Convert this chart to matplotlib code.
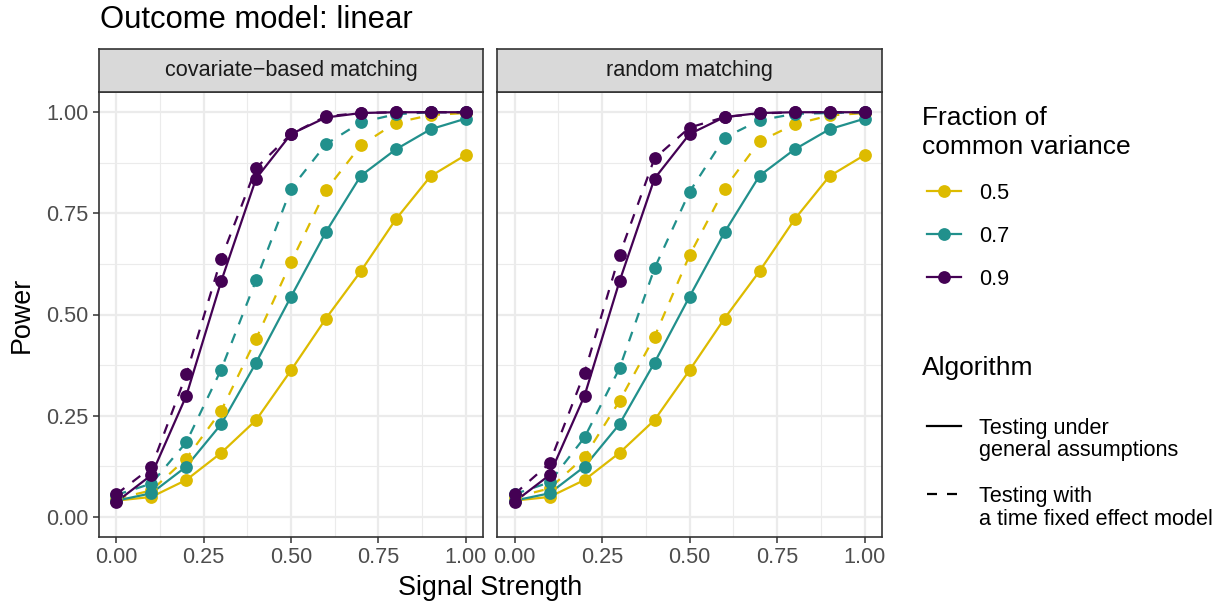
import matplotlib
matplotlib.use("Agg")
import matplotlib.pyplot as plt
from matplotlib.lines import Line2D
import numpy as np

plt.rcParams['font.family'] = ['Liberation Sans', 'DejaVu Sans']

# ---------------- data ----------------
signal = [0.0, 0.1, 0.2, 0.3, 0.4, 0.5, 0.6, 0.7, 0.8, 0.9, 1.0]
fractions = ["0.5", "0.7", "0.9"]
panels = ["covariate\u2212based matching", "random matching"]

# covariate-based matching
cov_general_05 = [0.040, 0.049, 0.091, 0.158, 0.239, 0.362, 0.490, 0.607, 0.735, 0.842, 0.894]
cov_general_07 = [0.040, 0.058, 0.124, 0.229, 0.381, 0.544, 0.704, 0.843, 0.908, 0.958, 0.984]
cov_general_09 = [0.037, 0.103, 0.299, 0.582, 0.836, 0.946, 0.987, 0.998, 1.000, 1.000, 1.000]
cov_fixed_05 = [0.045, 0.065, 0.144, 0.262, 0.440, 0.629, 0.807, 0.918, 0.974, 0.993, 0.998]
cov_fixed_07 = [0.054, 0.082, 0.184, 0.364, 0.585, 0.811, 0.921, 0.975, 0.995, 1.000, 1.000]
cov_fixed_09 = [0.056, 0.122, 0.352, 0.638, 0.862, 0.946, 0.990, 0.998, 1.000, 1.000, 1.000]

# random matching
rnd_general_05 = [0.040, 0.049, 0.091, 0.158, 0.239, 0.362, 0.490, 0.607, 0.735, 0.842, 0.894]
rnd_general_07 = [0.040, 0.058, 0.124, 0.229, 0.381, 0.544, 0.703, 0.843, 0.908, 0.958, 0.984]
rnd_general_09 = [0.037, 0.103, 0.299, 0.582, 0.836, 0.946, 0.988, 0.998, 1.000, 1.000, 1.000]
rnd_fixed_05 = [0.048, 0.070, 0.148, 0.286, 0.445, 0.646, 0.811, 0.928, 0.970, 0.992, 0.998]
rnd_fixed_07 = [0.056, 0.085, 0.196, 0.367, 0.614, 0.803, 0.937, 0.980, 0.996, 0.998, 1.000]
rnd_fixed_09 = [0.056, 0.132, 0.356, 0.647, 0.886, 0.962, 0.988, 0.997, 1.000, 1.000, 1.000]

x_ticks = [0.00, 0.25, 0.50, 0.75, 1.00]
x_ticklabels = ["0.00", "0.25", "0.50", "0.75", "1.00"]
y_ticks = [0.00, 0.25, 0.50, 0.75, 1.00]
y_ticklabels = ["0.00", "0.25", "0.50", "0.75", "1.00"]

algorithms = ["Testing under\ngeneral assumptions", "Testing with\na time fixed effect model"]

panel_data = [
    {"general": [cov_general_05, cov_general_07, cov_general_09],
     "fixed": [cov_fixed_05, cov_fixed_07, cov_fixed_09]},
    {"general": [rnd_general_05, rnd_general_07, rnd_general_09],
     "fixed": [rnd_fixed_05, rnd_fixed_07, rnd_fixed_09]},
]

# ---------------- style ----------------
colors = ["#DDBB00", "#21908C", "#440154"]
W, H = 1227, 607
fig = plt.figure(figsize=(W / 100, H / 100), dpi=100)


def fx(px):
    return px / W


def fy(py):
    return 1 - py / H


panel_px = [(99, 483), (497, 882)]
top_px, bot_px = 92, 537
strip_top = 49

TICK_FS = 15.6
LINE_W = 1.6
MS = 9.2
DASH = (0, (4.5, 4.5))

for i, (l, r) in enumerate(panel_px):
    ax = fig.add_axes([fx(l), fy(bot_px), fx(r) - fx(l), fy(top_px) - fy(bot_px)])
    ax.set_xlim(-0.05, 1.05)
    ax.set_ylim(-0.05, 1.05)
    ax.set_xticks(x_ticks)
    ax.set_yticks(y_ticks)
    ax.set_xticks([0.125, 0.375, 0.625, 0.875], minor=True)
    ax.set_yticks([0.125, 0.375, 0.625, 0.875], minor=True)
    ax.set_xticklabels(x_ticklabels)
    if i == 0:
        ax.set_yticklabels(y_ticklabels)
    else:
        ax.set_yticklabels([])
    ax.grid(which='major', color='#EBEBEB', linewidth=1.6)
    ax.grid(which='minor', color='#EBEBEB', linewidth=0.8)
    ax.set_axisbelow(True)
    ax.tick_params(axis='both', which='major', labelsize=TICK_FS, labelcolor='#4D4D4D',
                   color='#333333', length=4.5, width=1.1, direction='out', pad=3)
    ax.tick_params(axis='both', which='minor', length=0)
    if i == 1:
        ax.tick_params(axis='y', which='major', length=0)
    for s in ax.spines.values():
        s.set_color('#333333')
        s.set_linewidth(1.2)

    d = panel_data[i]
    for k in range(3):
        ax.plot(signal, d["general"][k], color=colors[k], lw=LINE_W, linestyle='-', zorder=2)
        ax.plot(signal, d["fixed"][k], color=colors[k], lw=LINE_W, linestyle=DASH, zorder=2)
    for k in range(3):
        ax.plot(signal, d["general"][k], color=colors[k], linestyle='none', marker='o',
                markersize=MS, markeredgewidth=0, zorder=3)
        ax.plot(signal, d["fixed"][k], color=colors[k], linestyle='none', marker='o',
                markersize=MS, markeredgewidth=0, zorder=3)

    # strip
    sax = fig.add_axes([fx(l), fy(top_px), fx(r) - fx(l), fy(strip_top) - fy(top_px)])
    sax.set_facecolor('#D9D9D9')
    sax.set_xticks([])
    sax.set_yticks([])
    for s in sax.spines.values():
        s.set_color('#333333')
        s.set_linewidth(1.2)
    sax.text(0.5, 0.5, panels[i], ha='center', va='center', fontsize=15.6,
             color='#1A1A1A', transform=sax.transAxes)

# titles
fig.text(fx(100), fy(28), "Outcome model: linear", fontsize=22.3, ha='left', va='baseline',
         color='black')
fig.text(fx(490.5), fy(595), "Signal Strength", fontsize=19.4, ha='center', va='baseline')
fig.text(fx(22), fy(314.5), "Power", fontsize=19.4, ha='center', va='center', rotation=90)

# ---------------- legend ----------------
LEG_TITLE_FS = 19.0
LEG_FS = 15.6
fig.text(fx(922), fy(125), "Fraction of", fontsize=LEG_TITLE_FS, ha='left', va='baseline')
fig.text(fx(922), fy(154), "common variance", fontsize=LEG_TITLE_FS, ha='left', va='baseline')
for k, yy in enumerate([191, 234, 277]):
    fig.add_artist(Line2D([fx(927), fx(961)], [fy(yy), fy(yy)], color=colors[k], lw=LINE_W,
                          transform=fig.transFigure))
    fig.add_artist(Line2D([fx(944)], [fy(yy)], color=colors[k], marker='o', markersize=MS,
                          markeredgewidth=0, linestyle='none', transform=fig.transFigure))
    fig.text(fx(979), fy(yy), fractions[k], fontsize=LEG_FS, ha='left', va='center_baseline')

fig.text(fx(922), fy(375), "Algorithm", fontsize=LEG_TITLE_FS, ha='left', va='baseline')
styles = ['-', (0, (4.5, 4.5))]
for j, (yy, base1, base2) in enumerate([(426, 434, 456), (494, 502, 525)]):
    fig.add_artist(Line2D([fx(927), fx(961)], [fy(yy), fy(yy)], color='black', lw=LINE_W,
                          linestyle=styles[j], transform=fig.transFigure))
    line1, line2 = algorithms[j].split("\n")
    fig.text(fx(979), fy(base1), line1, fontsize=LEG_FS, ha='left', va='baseline')
    fig.text(fx(979), fy(base2), line2, fontsize=LEG_FS, ha='left', va='baseline')

fig.savefig("out.png", dpi=100, facecolor='white')
